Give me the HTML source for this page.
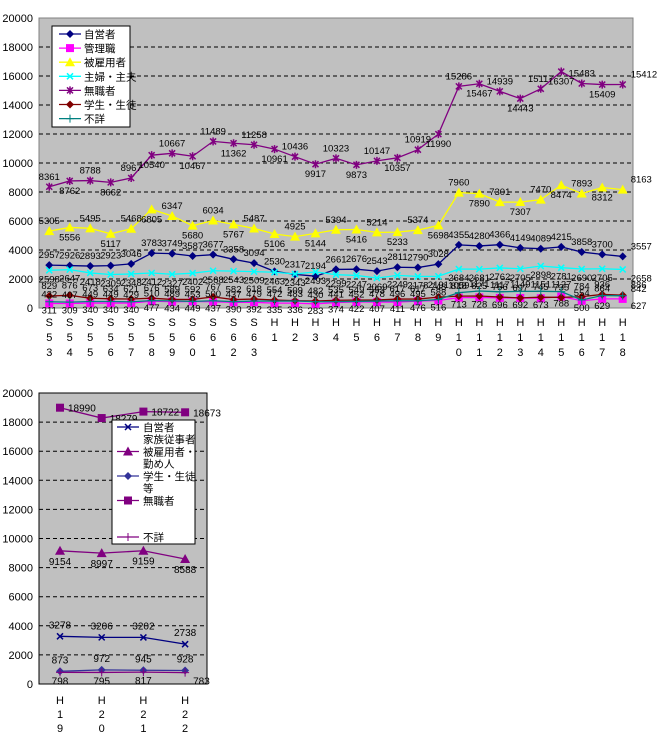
<!DOCTYPE html>
<html><head><meta charset="utf-8"><style>
body{margin:0;background:#fff;width:660px;height:750px;overflow:hidden}
svg{position:absolute;left:0;top:0;font-family:"Liberation Sans","Noto Sans CJK JP",sans-serif}
</style></head><body>
<svg id="s" width="660" height="750" xmlns="http://www.w3.org/2000/svg"></svg>
<script>
const S=document.getElementById('s');let h='';
function yA(v){return 308-v*290/20000;}
// chart1
h+='<rect x="39" y="18" width="594" height="290" fill="#c0c0c0" stroke="#808080"/>';
for(let v=0;v<=20000;v+=2000){const y=yA(v);if(v>0&&v<20000)h+=`<line x1="39" x2="633" y1="${y}" y2="${y}" stroke="#000" stroke-dasharray="4,3"/>`;h+=`<text x="33" y="${y+4}" font-size="11" text-anchor="end">${v}</text>`;}
const cats=['S53','S54','S55','S56','S57','S58','S59','S60','S61','S62','S63','H1','H2','H3','H4','H5','H6','H7','H8','H9','H10','H11','H12','H13','H14','H15','H16','H17','H18'];
const cx=i=>49.25+i*20.48;
cats.forEach((c,i)=>{[...c].forEach((ch,k)=>{h+=`<text x="${cx(i)}" y="${326+k*15}" font-size="11" text-anchor="middle">${ch}</text>`;});});
const D1=[
['#000080','d',[2957,2926,2893,2923,3046,3783,3749,3587,3677,3358,3094,2530,2317,2194,2661,2676,2543,2811,2790,3028,4355,4280,4366,4149,4089,4215,3858,3700,3557],-7],
['#ff00ff','s',[311,309,340,340,340,477,434,449,437,390,392,335,336,283,374,422,407,411,476,516,713,728,696,692,673,788,500,629,627],10],
['#ffff00','t',[5305,5556,5495,5117,5468,6805,6347,5680,6034,5767,5487,5106,4925,5144,5394,5416,5214,5233,5374,5698,7960,7890,7301,7307,7470,8474,7893,8312,8163],-7],
['#00ffff','x',[2598,2647,2418,2309,2348,2412,2327,2402,2568,2543,2509,2463,2343,2493,2299,2247,2069,2249,2178,2191,2684,2681,2762,2705,2898,2781,2690,2705,2658],12],
['#800080','a',[8361,8762,8788,8662,8967,10540,10667,10467,11489,11362,11258,10961,10436,9917,10323,9873,10147,10357,10919,11990,15286,15467,14939,14443,15117,16307,15483,15409,15412],-9],
['#800000','d',[829,876,673,634,621,676,589,592,767,582,618,554,509,482,535,549,553,617,617,748,818,825,756,697,745,735,784,936,886],-7],
['#008080','p',[432,407,449,449,429,510,489,453,500,437,479,472,483,430,441,452,478,496,495,588,1059,1171,1117,1149,1151,1127,554,864,842],-4]];
function mk(t,x,y,c){
 if(t=='d')return `<path d="M${x} ${y-4}L${x+4} ${y}L${x} ${y+4}L${x-4} ${y}Z" fill="${c}"/>`;
 if(t=='s')return `<rect x="${x-4}" y="${y-4}" width="8" height="8" fill="${c}"/>`;
 if(t=='t')return `<path d="M${x} ${y-5}L${x+5} ${y+4}L${x-5} ${y+4}Z" fill="${c}"/>`;
 if(t=='x')return `<path d="M${x-3} ${y-3}L${x+3} ${y+3}M${x-3} ${y+3}L${x+3} ${y-3}" stroke="${c}" stroke-width="1.5"/>`;
 if(t=='a')return `<path d="M${x-3} ${y-3}L${x+3} ${y+3}M${x-3} ${y+3}L${x+3} ${y-3}M${x} ${y-4}L${x} ${y+4}" stroke="${c}" stroke-width="1.5"/>`;
 if(t=='p')return `<path d="M${x-4} ${y}L${x+4} ${y}M${x} ${y-4}L${x} ${y+4}" stroke="${c}" stroke-width="1"/>`;
 return '';}
D1.forEach(([c,t,d,off])=>{h+=`<polyline fill="none" stroke="${c}" stroke-width="1.3" points="${d.map((v,i)=>cx(i)+','+yA(v)).join(' ')}"/>`;
 d.forEach((v,i)=>{h+=mk(t,cx(i),yA(v),c);const o=(i%2?1:-1)*(t=='a'||t=='t'?1:0);const yy=yA(v)+(o?(o>0?13:-7):off);h+=`<text x="${i==28?cx(i)+8:cx(i)}" y="${yy}" font-size="9.5" text-anchor="${i==28?'start':'middle'}">${v}</text>`;});});
// legend1
h+='<rect x="52" y="26" width="78" height="101" fill="#fff" stroke="#000"/>';
const L1=['自営者','管理職','被雇用者','主婦・主夫','無職者','学生・生徒','不詳'];
L1.forEach((n,i)=>{const y=34+i*14.1,c=D1[i][0];h+=`<line x1="59" x2="81" y1="${y}" y2="${y}" stroke="${c}" stroke-width="1.3"/>`+mk(D1[i][1],70,y,c)+`<text x="84" y="${y+4}" font-size="10.5">${n}</text>`;});
// chart2
function yB(v){return 684-v*291/20000;}
h+='<rect x="39" y="393" width="168" height="291" fill="#c0c0c0" stroke="#000"/>';
for(let v=0;v<=20000;v+=2000){const y=yB(v);if(v>0&&v<20000)h+=`<line x1="39" x2="207" y1="${y}" y2="${y}" stroke="#000" stroke-dasharray="4,3"/>`;h+=`<text x="33" y="${y+4}" font-size="11" text-anchor="end">${v}</text>`;}
const c2=['H19','H20','H21','H22'],bx=i=>60+i*41.7;
c2.forEach((c,i)=>{[...c].forEach((ch,k)=>{h+=`<text x="${bx(i)}" y="${704+k*14}" font-size="11" text-anchor="middle">${ch}</text>`;});});
const D2=[['#000080','x',[3278,3206,3202,2738],-8],['#800080','t',[9154,8997,9159,8588],14],['#333399','d',[873,972,945,928],-8],['#800080','s',[18990,18279,18722,18673],4],['#800080','p',[798,795,817,783],12]];
D2.forEach(([c,t,d,off])=>{h+=`<polyline fill="none" stroke="${c}" stroke-width="1.3" points="${d.map((v,i)=>bx(i)+','+yB(v)).join(' ')}"/>`;
 d.forEach((v,i)=>{h+=mk(t,bx(i),yB(v),c);const sx=(t=='s'||(t=='p'&&i==3))?bx(i)+8:bx(i);h+=`<text x="${sx}" y="${yB(v)+off}" font-size="10" text-anchor="${sx==bx(i)?'middle':'start'}">${v}</text>`;});});
h+='<rect x="112" y="420" width="83" height="124" fill="#fff" stroke="#000"/>';
const L2=[['自営者','家族従事者'],['被雇用者・','勤め人'],['学生・生徒','等'],['無職者',''],['','不詳']];
L2.forEach(([a,b],i)=>{const y=427+i*24.5,d=D2[i];const ly=i==4?y+12:y;h+=`<line x1="117" x2="139" y1="${ly}" y2="${ly}" stroke="${d[0]}" stroke-width="1.3"/>`+mk(d[1],128,ly,d[0]);if(a)h+=`<text x="143" y="${y+4}" font-size="10.5">${a}</text>`;if(b)h+=`<text x="143" y="${y+16}" font-size="10.5">${b}</text>`;});
S.innerHTML=h;
</script>
</body></html>
